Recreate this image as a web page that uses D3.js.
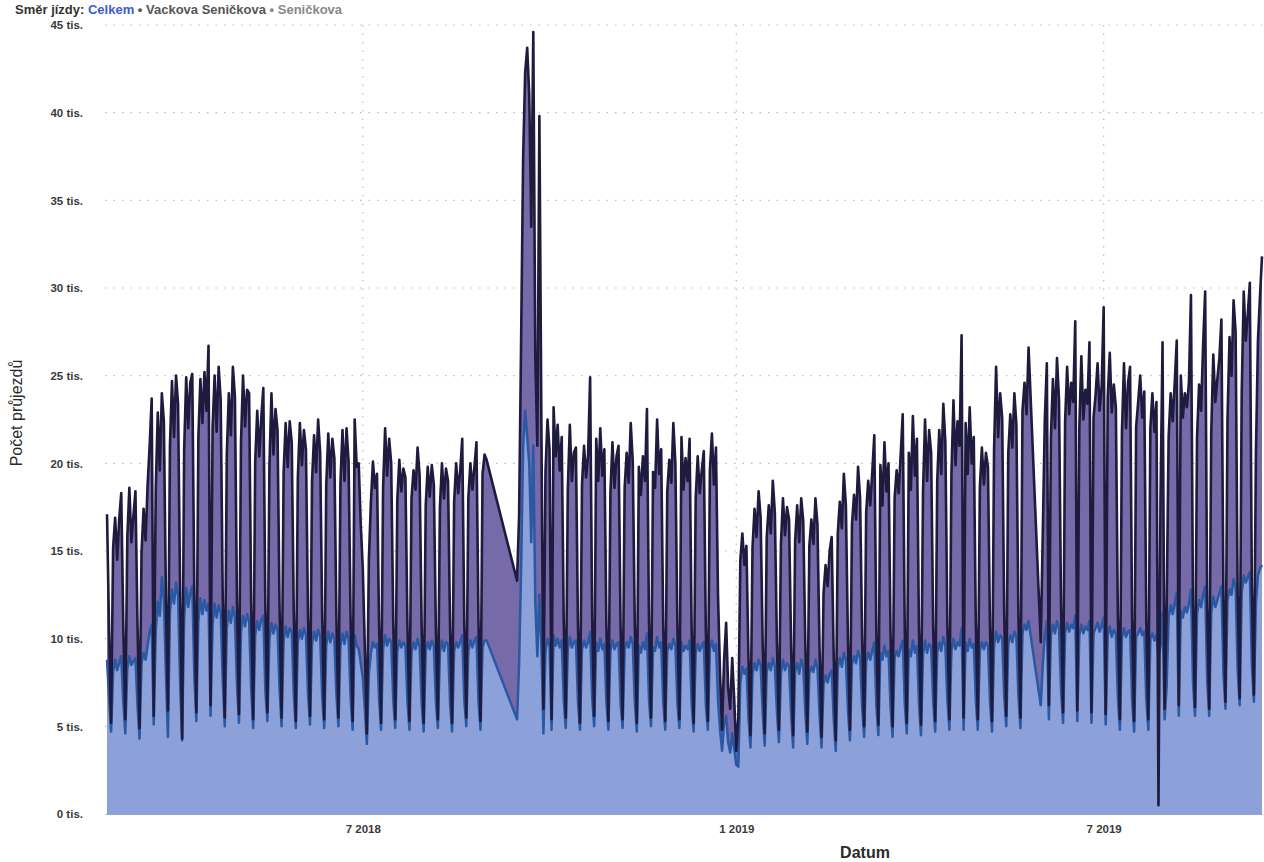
<html>
<head>
<meta charset="utf-8">
<style>
  body { margin: 0; background: #fff; overflow: hidden; }
  text { font-family: "Liberation Sans", Arial, sans-serif; }
</style>
</head>
<body>
<div id="chart"></div>

<script type="text/javascript" src="https://d3js.org/d3.v7.min.js"></script>
<script type="text/javascript">
// daily counts in thousands, first day 25.2.2018, one row per week (null = no data)
var startDate = new Date(2018, 1, 25)

// dark series (Celkem)
var celkem = [
  [17.1, 10.5, 5.2],
  [15.2, 16.9, 14.5, 16.8, 18.3, 10.8, 5.4],
  [15.8, 18.6, 15.5, 17.0, 18.4, 10.9, 4.9],
  [14.9, 17.4, 15.6, 18.8, 21.0, 23.7, 5.6],
  [18.5, 22.9, 19.6, 24.0, 22.4, 12.5, 5.9],
  [21.0, 24.7, 21.5, 25.0, 23.4, 12.8, 4.3],
  [20.8, 24.9, 22.0, 24.6, 25.1, 12.6, 5.8],
  [21.5, 24.8, 22.3, 25.2, 23.0, 26.7, 6.2],
  [22.0, 25.0, 21.8, 25.5, 23.6, 12.4, 5.5],
  [20.5, 24.0, 21.6, 25.5, 23.8, 12.2, 5.7],
  [21.2, 25.0, 22.1, 24.2, 24.0, 12.1, 5.4],
  [20.1, 23.0, 20.4, 22.6, 24.3, 11.9, 5.8],
  [19.8, 24.0, 20.5, 23.1, 21.9, 11.8, 5.5],
  [19.5, 22.3, 19.8, 22.4, 21.2, 11.5, 5.3],
  [19.2, 22.3, 19.9, 21.9, 20.8, 11.4, 5.6],
  [19.0, 21.6, 19.5, 22.5, 20.6, 11.3, 5.4],
  [18.8, 21.7, 19.2, 21.4, 20.3, 11.2, 5.5],
  [18.9, 21.9, 19.0, 22.0, 20.1, 11.1, 5.3],
  [22.5, 19.8, 20.0, 16.5, 14.0, 9.5, 4.6],
  [14.5, 17.8, 20.1, 18.6, 19.4, 11.0, 5.2],
  [18.6, 22.0, 19.3, 21.4, 20.0, 11.0, 5.4],
  [17.9, 20.2, 18.4, 19.7, 19.2, 10.8, 5.3],
  [18.0, 19.6, 18.5, 20.9, 19.3, 10.7, 5.2],
  [17.6, 19.8, 18.1, 19.9, 18.8, 10.6, 5.4],
  [17.5, 20.0, 18.0, 19.7, 19.0, 10.7, 5.2],
  [17.8, 20.0, 18.3, 19.6, 21.4, 10.9, 5.5],
  [18.0, 20.0, 18.5, 19.8, 21.2, 11.0, 5.3],
  [19.4, 20.5, 20.2, null, null, null, null],
  [null, null, null, null, null, null, null],
  [null, null, null, 13.3, 17.0, 27.0, 37.5],
  [42.3, 43.7, 41.0, 33.5, 44.6, 26.0, 21.0],
  [39.8, 22.0, 6.0, 19.5, 22.5, 20.8, 5.4],
  [23.2, 20.4, 22.2, 19.6, 21.5, 11.0, 5.5],
  [18.5, 22.2, 19.0, 20.6, 20.9, 10.8, 5.2],
  [18.8, 21.0, 19.2, 20.5, 24.9, 11.2, 5.6],
  [21.4, 19.0, 22.0, 19.3, 20.8, 10.9, 5.3],
  [18.3, 21.2, 18.6, 20.4, 21.0, 10.7, 5.4],
  [18.6, 20.6, 18.9, 22.3, 20.1, 10.8, 5.2],
  [19.8, 18.2, 20.4, 19.0, 23.1, 11.0, 5.5],
  [19.5, 18.6, 22.5, 19.4, 20.8, 10.8, 5.3],
  [18.4, 20.2, 18.9, 22.3, 20.0, 10.7, 5.4],
  [21.5, 18.5, 20.3, 19.0, 21.4, 10.6, 5.2],
  [18.0, 20.4, 18.3, 19.6, 20.7, 10.5, 5.3],
  [19.6, 21.7, 18.8, 20.9, 12.5, 8.0, 4.8],
  [8.8, 10.9, 7.2, 6.0, 8.9, 6.5, 3.6],
  [5.5, 14.5, 16.0, 14.2, 15.3, 9.0, 4.5],
  [15.2, 17.4, 15.8, 18.4, 16.9, 9.8, 4.6],
  [15.8, 17.6, 16.0, 19.0, 17.2, 9.9, 4.8],
  [15.4, 18.0, 15.9, 17.5, 16.8, 9.7, 4.5],
  [15.6, 17.6, 15.5, 18.0, 16.7, 9.8, 4.7],
  [15.3, 16.8, 15.4, 18.0, 16.5, 9.6, 4.4],
  [12.6, 14.2, 13.0, 15.0, 15.8, 9.0, 4.2],
  [16.0, 17.8, 16.3, 19.4, 17.6, 10.0, 4.8],
  [16.5, 18.2, 16.8, 19.8, 18.0, 10.1, 5.0],
  [17.2, 19.0, 17.6, 19.5, 21.6, 10.4, 5.1],
  [19.9, 17.6, 21.2, 18.4, 20.0, 10.3, 5.0],
  [18.0, 19.6, 18.3, 20.5, 22.8, 10.6, 5.2],
  [20.6, 18.5, 22.7, 19.3, 21.4, 10.6, 5.1],
  [18.4, 22.5, 19.0, 21.9, 20.6, 10.7, 5.3],
  [19.0, 21.9, 19.4, 23.4, 21.2, 10.8, 5.4],
  [19.4, 23.6, 19.9, 22.4, 21.0, 27.3, 5.5],
  [22.3, 19.4, 23.2, 20.0, 21.5, 10.9, 5.4],
  [18.6, 20.9, 18.8, 20.6, 19.8, 10.6, 5.3],
  [20.8, 25.5, 21.5, 24.0, 22.6, 11.4, 5.6],
  [20.6, 22.8, 20.9, 24.0, 22.2, 11.3, 5.5],
  [23.0, 24.6, 22.8, 26.6, null, null, null],
  [null, null, 9.8, 16.0, 22.5, 25.7, 6.2],
  [21.5, 24.8, 22.0, 26.0, 23.6, 11.8, 5.8],
  [22.4, 25.5, 22.8, 24.6, 23.5, 28.1, 5.9],
  [22.0, 26.1, 22.5, 24.2, 23.4, 26.9, 5.8],
  [22.6, 23.9, 25.7, 23.0, 24.4, 28.9, 5.7],
  [23.8, 26.3, 22.9, 24.5, 23.2, 11.2, 5.4],
  [21.8, 25.7, 22.0, 24.6, 25.5, 11.1, 5.3],
  [22.1, 23.5, 25.0, 22.6, 24.1, 11.0, 5.4],
  [22.0, 24.0, 21.8, 23.5, 0.5, 18.0, 26.9],
  [6.0, 11.5, 21.5, 24.0, 22.4, 24.6, 27.0],
  [6.2, 25.0, 22.6, 24.0, 23.2, 24.6, 29.6],
  [12.0, 6.1, 21.5, 24.5, 23.0, 26.8, 29.8],
  [11.8, 6.0, 21.8, 26.2, 23.5, 24.8, 26.0],
  [28.2, 12.5, 6.4, 22.5, 27.2, 25.0, 29.3],
  [27.5, 12.6, 6.6, 24.0, 29.8, 27.0, 28.5],
  [30.3, 13.0, 6.8, 20.5, 27.0, 29.5, 31.8]
]

// blue series (single direction)
var smer = [
  [8.8, 6.6, 4.7],
  [8.1, 8.8, 8.2, 8.6, 9.0, 6.4, 4.6],
  [8.3, 9.0, 8.5, 8.7, 8.9, 6.2, 4.3],
  [8.6, 9.2, 8.8, 9.6, 10.4, 10.8, 5.1],
  [10.4, 12.1, 11.3, 13.5, 12.2, 8.0, 4.4],
  [11.5, 12.8, 12.0, 13.2, 12.4, 7.5, 4.2],
  [11.2, 12.9, 11.8, 12.6, 13.0, 7.9, 5.3],
  [11.0, 12.3, 11.4, 12.2, 11.6, 12.0, 5.6],
  [10.8, 12.0, 11.2, 11.9, 11.5, 7.6, 5.0],
  [10.6, 11.6, 10.9, 11.8, 11.2, 7.4, 5.2],
  [10.4, 11.3, 10.7, 11.4, 11.0, 7.2, 4.9],
  [10.2, 11.0, 10.5, 11.1, 11.3, 7.0, 5.3],
  [10.0, 10.9, 10.3, 10.8, 10.5, 7.1, 5.0],
  [9.9, 10.7, 10.1, 10.6, 10.4, 6.8, 4.9],
  [9.8, 10.5, 10.0, 10.6, 10.2, 6.9, 5.1],
  [9.7, 10.4, 9.9, 10.5, 10.1, 6.7, 4.9],
  [9.6, 10.4, 9.8, 10.3, 10.0, 6.8, 5.0],
  [9.6, 10.3, 9.7, 10.4, 10.0, 6.6, 4.8],
  [10.2, 9.6, 9.4, 8.6, 7.8, 6.0, 4.0],
  [8.0, 9.2, 9.8, 9.5, 9.7, 6.6, 4.8],
  [9.4, 10.2, 9.6, 10.0, 9.8, 6.5, 4.9],
  [9.3, 9.9, 9.5, 9.8, 9.6, 6.4, 4.8],
  [9.2, 9.8, 9.4, 10.0, 9.5, 6.3, 4.7],
  [9.3, 9.8, 9.4, 9.9, 9.6, 6.4, 4.9],
  [9.2, 9.9, 9.3, 9.8, 9.7, 6.3, 4.7],
  [9.3, 9.8, 9.5, 9.8, 10.2, 6.5, 5.0],
  [9.3, 9.9, 9.5, 9.9, 10.1, 6.4, 4.8],
  [9.5, 9.9, 9.9, null, null, null, null],
  [null, null, null, null, null, null, null],
  [null, null, null, 5.4, 8.5, 14.0, 21.0],
  [23.0, 21.5, 20.0, 15.5, 21.0, 12.0, 9.0],
  [12.5, 9.5, 4.6, 9.3, 10.0, 9.6, 4.8],
  [10.2, 9.6, 10.0, 9.5, 9.9, 6.5, 4.9],
  [9.4, 10.1, 9.5, 9.8, 9.9, 6.4, 4.8],
  [9.4, 9.9, 9.5, 9.8, 10.4, 6.6, 5.0],
  [9.8, 9.3, 10.0, 9.4, 9.7, 6.4, 4.8],
  [9.3, 9.9, 9.4, 9.7, 9.8, 6.3, 4.9],
  [9.4, 9.8, 9.5, 10.1, 9.7, 6.4, 4.7],
  [9.6, 9.2, 9.8, 9.4, 10.3, 6.5, 5.0],
  [9.5, 9.3, 10.1, 9.5, 9.8, 6.4, 4.8],
  [9.3, 9.7, 9.4, 10.0, 9.6, 6.3, 4.9],
  [9.8, 9.3, 9.6, 9.4, 9.9, 6.3, 4.7],
  [9.2, 9.7, 9.3, 9.6, 9.8, 6.2, 4.8],
  [9.4, 9.9, 9.3, 9.7, 6.5, 4.8, 3.6],
  [5.2, 5.6, 4.1, 3.5, 4.6, 3.7, 2.8],
  [2.7, 7.5, 8.4, 8.0, 8.3, 5.5, 3.8],
  [8.0, 8.6, 8.2, 8.8, 8.5, 5.8, 3.9],
  [8.1, 8.6, 8.2, 8.9, 8.4, 5.9, 4.1],
  [8.0, 8.8, 8.2, 8.6, 8.4, 5.7, 3.8],
  [8.1, 8.6, 8.0, 8.8, 8.4, 5.8, 4.0],
  [8.0, 8.4, 8.1, 8.8, 8.3, 5.7, 3.8],
  [7.4, 7.9, 7.5, 8.0, 8.2, 5.4, 3.6],
  [8.3, 8.9, 8.4, 9.2, 8.8, 6.0, 4.2],
  [8.5, 9.0, 8.6, 9.3, 8.9, 6.1, 4.4],
  [8.7, 9.2, 8.8, 9.3, 9.8, 6.2, 4.5],
  [9.2, 8.8, 9.6, 9.0, 9.3, 6.1, 4.4],
  [8.9, 9.3, 9.0, 9.5, 9.9, 6.3, 4.6],
  [9.4, 9.0, 9.9, 9.2, 9.6, 6.3, 4.5],
  [9.1, 9.9, 9.2, 9.7, 9.5, 6.4, 4.7],
  [9.2, 9.8, 9.3, 10.1, 9.6, 6.5, 4.8],
  [9.3, 10.0, 9.4, 9.8, 9.6, 10.6, 4.8],
  [9.8, 9.3, 10.0, 9.5, 9.7, 6.5, 4.8],
  [9.3, 9.8, 9.4, 9.8, 9.6, 6.4, 4.7],
  [9.6, 10.4, 9.8, 10.2, 10.0, 6.7, 5.0],
  [9.7, 10.2, 9.8, 10.4, 10.1, 6.7, 4.9],
  [10.3, 10.8, 10.5, 11.0, null, null, null],
  [null, null, 6.2, 8.5, 10.2, 11.0, 5.4],
  [10.2, 10.8, 10.3, 11.0, 10.6, 7.0, 5.2],
  [10.3, 10.9, 10.4, 10.8, 10.6, 11.3, 5.3],
  [10.2, 10.8, 10.3, 10.7, 10.5, 11.0, 5.2],
  [10.3, 10.6, 10.9, 10.4, 10.7, 11.2, 5.1],
  [10.2, 10.7, 10.1, 10.5, 10.3, 6.6, 4.8],
  [10.0, 10.6, 10.1, 10.4, 10.5, 6.5, 4.7],
  [10.1, 10.3, 10.6, 10.2, 10.4, 6.5, 4.8],
  [10.0, 10.3, 9.9, 10.2, 9.0, 9.6, 11.5],
  [5.4, 7.2, 11.2, 11.9, 11.4, 12.0, 12.6],
  [5.6, 11.6, 11.2, 11.8, 11.5, 12.0, 12.8],
  [7.5, 5.6, 11.4, 12.2, 11.8, 12.5, 13.0],
  [7.6, 5.6, 11.5, 12.4, 11.8, 12.2, 12.6],
  [13.0, 8.0, 6.0, 12.2, 12.8, 12.5, 13.4],
  [13.0, 8.2, 6.2, 12.6, 13.6, 13.2, 13.5],
  [13.8, 8.5, 6.4, 12.0, 13.6, 14.0, 14.2]
]

var yTicks = [0, 5, 10, 15, 20, 25, 30, 35, 40, 45]
var xTicks = [new Date(2018, 6, 1), new Date(2019, 0, 1), new Date(2019, 6, 1)]

var margin = {top: 25, right: 2, bottom: 48, left: 105}
var width = 1264 - margin.left - margin.right
var height = 862 - margin.top - margin.bottom

var svg = d3.select("#chart")
  .append("svg")
  .attr("width", 1264)
  .attr("height", 862)

var g = svg.append("g")
  .attr("transform", "translate(" + margin.left + "," + margin.top + ")")

// build rows: one per day, skip the days without data
function toRows(weeks) {
  return weeks.flat().map(function(v, i) {
    return {date: d3.timeDay.offset(startDate, i), value: v}
  }).filter(function(d) { return d.value != null })
}
var rowsCelkem = toRows(celkem)
var rowsSmer = toRows(smer)

var x = d3.scaleTime()
  .domain([new Date(2018, 1, 24), new Date(2019, 8, 17)])
  .range([0, width])

var y = d3.scaleLinear()
  .domain([0, 45])
  .range([height, 0])

// dotted grid
g.append("g").selectAll("line.h")
  .data(yTicks.slice(1))
  .enter().append("line")
  .attr("x1", 0).attr("x2", width)
  .attr("y1", d => y(d)).attr("y2", d => y(d))
  .style("stroke", "#bdbdbd")
  .style("stroke-width", 1.2)
  .style("stroke-dasharray", "1.5,7")

g.append("g").selectAll("line.v")
  .data(xTicks)
  .enter().append("line")
  .attr("x1", d => x(d)).attr("x2", d => x(d))
  .attr("y1", 0).attr("y2", height)
  .style("stroke", "#bdbdbd")
  .style("stroke-width", 1.2)
  .style("stroke-dasharray", "1.5,7")

var area = d3.area()
  .x(d => x(d.date))
  .y0(y(0))
  .y1(d => y(d.value))

var line = d3.line()
  .x(d => x(d.date))
  .y(d => y(d.value))

g.append("path")
  .datum(rowsCelkem)
  .attr("d", area)
  .style("fill", "#776aa8")

g.append("path")
  .datum(rowsSmer)
  .attr("d", area)
  .style("fill", "#8ca1d9")

g.append("path")
  .datum(rowsSmer)
  .attr("d", line)
  .style("fill", "none")
  .style("stroke", "#2a58a2")
  .style("stroke-width", 2.5)
  .style("stroke-linejoin", "round")

g.append("path")
  .datum(rowsCelkem)
  .attr("d", line)
  .style("fill", "none")
  .style("stroke", "#1e1b3e")
  .style("stroke-width", 2.6)
  .style("stroke-linejoin", "round")

// axes
var yAxis = g.append("g")
  .call(d3.axisLeft(y).tickValues(yTicks).tickSize(0).tickPadding(22)
    .tickFormat(d => d + " tis."))
yAxis.select(".domain").remove()
yAxis.selectAll("text")
  .style("font-size", "11.5px")
  .style("font-weight", "bold")
  .style("fill", "#3a3a3a")

var xAxis = g.append("g")
  .attr("transform", "translate(0," + height + ")")
  .call(d3.axisBottom(x).tickValues(xTicks).tickSize(0).tickPadding(11)
    .tickFormat(d => (d.getMonth() + 1) + " " + d.getFullYear()))
xAxis.select(".domain")
  .style("stroke", "#9aa6c8")
  .style("stroke-width", 1)
xAxis.selectAll("text")
  .style("font-size", "11.5px")
  .style("font-weight", "bold")
  .style("fill", "#3a3a3a")

// titles
svg.append("text")
  .attr("x", 865)
  .attr("y", 858)
  .attr("text-anchor", "middle")
  .style("font-size", "16px")
  .style("font-weight", "bold")
  .style("fill", "#2a2a2a")
  .text("Datum")

svg.append("text")
  .attr("transform", "translate(22,413) rotate(-90)")
  .attr("text-anchor", "middle")
  .style("font-size", "16px")
  .style("fill", "#2a2a2a")
  .text("Počet průjezdů")

// legend line at the top edge
var legend = svg.append("text")
  .attr("x", 15)
  .attr("y", 14)
  .style("font-size", "13px")
  .style("font-weight", "bold")
legend.append("tspan").style("fill", "#333").text("Směr jízdy: ")
legend.append("tspan").style("fill", "#3d5bd0").text("Celkem ")
legend.append("tspan").style("fill", "#555").text("• Vackova Seničkova ")
legend.append("tspan").style("fill", "#888").text("• Seničkova")
</script>
</body>
</html>
